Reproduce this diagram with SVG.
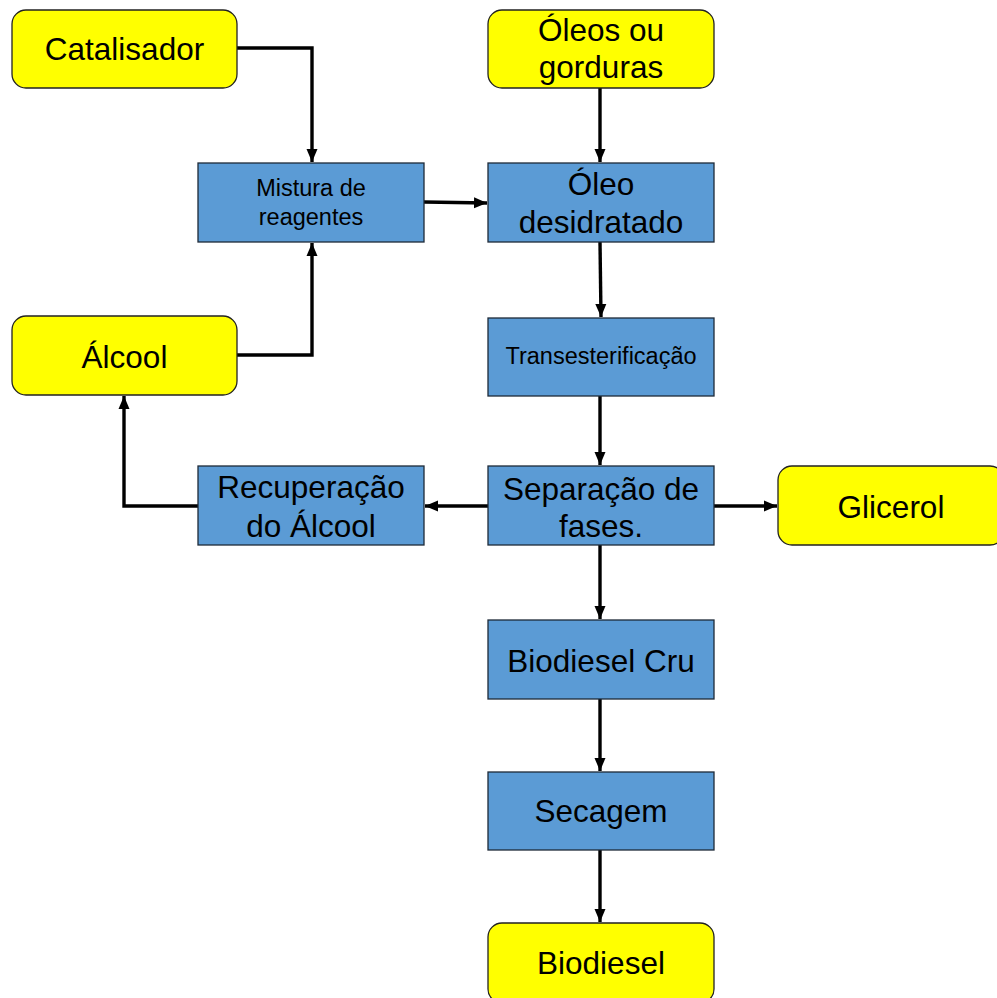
<svg xmlns="http://www.w3.org/2000/svg" width="997" height="998" viewBox="0 0 997 998">
  <style>
    .input { fill: #ffff00; stroke: #222; stroke-width: 1.3; }
    .step { fill: #5b9bd5; stroke: #1e2a38; stroke-width: 1.3; }
    text { font-family: "Liberation Sans", Arial, sans-serif; fill: #000; text-anchor: middle; }
    .big { font-size: 31.5px; }
    .small { font-size: 23.5px; }
    .flow { fill: none; stroke: #000; stroke-width: 3.4; marker-end: url(#arrow); }
  </style>
  <defs>
    <marker id="arrow" markerUnits="userSpaceOnUse" markerWidth="13" markerHeight="13" viewBox="0 0 13 13" refX="13" refY="6.5" orient="auto">
      <path d="M0,1 L13,6.5 L0,12 Z" fill="#000"/>
    </marker>
  </defs>

  <!-- process connectors -->
  <g id="connectors">
    <path class="flow" d="M237,48 H312 V162"/>
    <path class="flow" d="M600,88 V162"/>
    <path class="flow" d="M424,202 L487,203"/>
    <path class="flow" d="M237,355 H312 V243"/>
    <path class="flow" d="M600,242 L601,317"/>
    <path class="flow" d="M600,396 V465"/>
    <path class="flow" d="M488,506 H425"/>
    <path class="flow" d="M198,506 H124 V396"/>
    <path class="flow" d="M714,506 H777"/>
    <path class="flow" d="M600,545 V619"/>
    <path class="flow" d="M600,699 V771"/>
    <path class="flow" d="M600,850 V922"/>
  </g>

  <g id="catalisador">
    <rect class="input" x="12" y="10" width="225" height="78" rx="14"/>
    <text class="big" x="124.5" y="60">Catalisador</text>
  </g>

  <g id="oleos-gorduras">
    <rect class="input" x="488" y="10" width="226" height="78" rx="14"/>
    <text class="big" x="601" y="41">Óleos ou</text>
    <text class="big" x="601" y="78">gorduras</text>
  </g>

  <g id="mistura-reagentes">
    <rect class="step" x="198" y="163" width="226" height="79"/>
    <text class="small" x="311" y="196">Mistura de</text>
    <text class="small" x="311" y="225">reagentes</text>
  </g>

  <g id="oleo-desidratado">
    <rect class="step" x="488" y="163" width="226" height="79"/>
    <text class="big" x="601" y="195">Óleo</text>
    <text class="big" x="601" y="233">desidratado</text>
  </g>

  <g id="alcool">
    <rect class="input" x="12" y="316" width="225" height="79" rx="14"/>
    <text class="big" x="124.5" y="368">Álcool</text>
  </g>

  <g id="transesterificacao">
    <rect class="step" x="488" y="318" width="226" height="78"/>
    <text class="small" x="601" y="364">Transesterificação</text>
  </g>

  <g id="recuperacao-alcool">
    <rect class="step" x="198" y="466" width="226" height="79"/>
    <text class="big" x="311" y="498">Recuperação</text>
    <text class="big" x="311" y="537">do Álcool</text>
  </g>

  <g id="separacao-fases">
    <rect class="step" x="488" y="466" width="226" height="79"/>
    <text class="big" x="601" y="500">Separação de</text>
    <text class="big" x="601" y="537">fases.</text>
  </g>

  <g id="glicerol">
    <rect class="input" x="778" y="466" width="226" height="79" rx="14"/>
    <text class="big" x="891" y="518">Glicerol</text>
  </g>

  <g id="biodiesel-cru">
    <rect class="step" x="488" y="620" width="226" height="79"/>
    <text class="big" x="601" y="672">Biodiesel Cru</text>
  </g>

  <g id="secagem">
    <rect class="step" x="488" y="772" width="226" height="78"/>
    <text class="big" x="601" y="822">Secagem</text>
  </g>

  <g id="biodiesel">
    <rect class="input" x="488" y="923" width="226" height="80" rx="14"/>
    <text class="big" x="601" y="974">Biodiesel</text>
  </g>
</svg>
